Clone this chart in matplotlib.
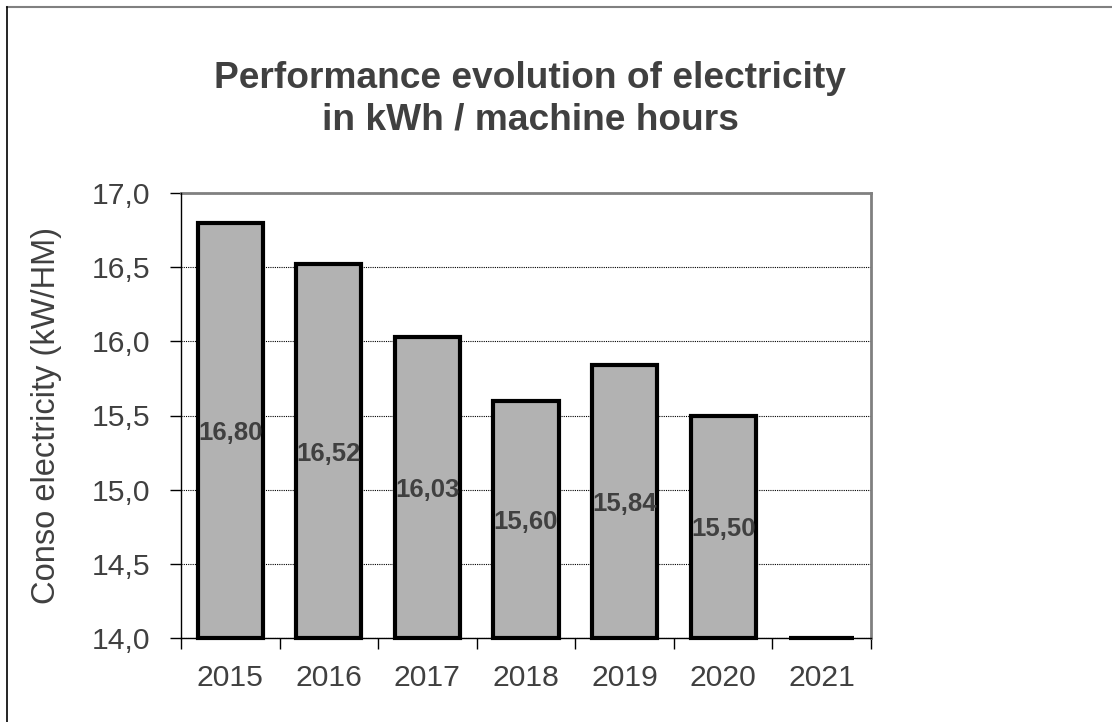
import matplotlib
matplotlib.use("Agg")
import matplotlib.pyplot as plt
from matplotlib.lines import Line2D
import numpy as np

plt.rcParams['font.family'] = ['Liberation Sans', 'DejaVu Sans']

years = ["2015", "2016", "2017", "2018", "2019", "2020", "2021"]
values = [16.80, 16.52, 16.03, 15.60, 15.84, 15.50, 0.0]
value_labels = ["16,80", "16,52", "16,03", "15,60", "15,84", "15,50", ""]
yticks = [14.0, 14.5, 15.0, 15.5, 16.0, 16.5, 17.0]
ytick_labels = ["14,0", "14,5", "15,0", "15,5", "16,0", "16,5", "17,0"]
title_lines = ["Performance evolution of electricity", "in kWh / machine hours"]
ylabel = "Conso electricity (kW/HM)"

W, H = 1112, 722
fig = plt.figure(figsize=(W / 100, H / 100), dpi=100)
ax = fig.add_axes([181 / W, 1 - 638 / H, (871 - 181) / W, (638 - 193) / H])

ymin, ymax = yticks[0], yticks[-1]
x = np.arange(len(years))
heights = np.clip(np.array(values) - ymin, 0, None)
ax.bar(x, heights, bottom=ymin, width=0.66, color="#b2b2b2",
       edgecolor="black", linewidth=3, zorder=3, clip_on=False)

for xi, v, lab in zip(x, values, value_labels):
    if lab and v > ymin:
        ax.text(xi, (ymin + v) / 2, lab, ha="center", va="center_baseline",
                fontsize=18.5, fontweight="bold", color="#404040", zorder=4)

ax.set_xlim(-0.5, len(years) - 0.5)
ax.set_ylim(ymin, ymax)
ax.set_yticks(yticks)
ax.set_yticklabels(ytick_labels)
ax.set_xticks(x)
ax.set_xticklabels(years)
ax.set_xticks(np.arange(-0.5, len(years)), minor=True)

ax.tick_params(axis="y", which="major", direction="out", length=8, width=1,
               color="black", labelsize=21.7, labelcolor="#404040", pad=14)
ax.tick_params(axis="x", which="major", length=0, labelsize=21.7,
               labelcolor="#404040", pad=19)
ax.tick_params(axis="x", which="minor", direction="out", length=8, width=1,
               color="black")

ax.yaxis.grid(True, linestyle=(0, (1, 1)), color="black", linewidth=0.8, zorder=0)
ax.set_axisbelow(True)

for s in ["left", "bottom"]:
    ax.spines[s].set_color("black")
    ax.spines[s].set_linewidth(1)
    ax.spines[s].set_zorder(5)
for s in ["top", "right"]:
    ax.spines[s].set_color("#808080")
    ax.spines[s].set_linewidth(2)

fig.text(47 / W, 1 - 415 / H, ylabel, rotation=90, ha="center", va="center",
         fontsize=23.5, color="#404040")

fig.text(530 / W, 1 - 88 / H, title_lines[0], ha="center", va="baseline",
         fontsize=26.7, fontweight="bold", color="#404040")
fig.text(530 / W, 1 - 130 / H, title_lines[1], ha="center", va="baseline",
         fontsize=26.7, fontweight="bold", color="#404040")

fig.add_artist(Line2D([7 / W, 1.01], [1 - 7 / H, 1 - 7 / H], transform=fig.transFigure,
                      color="#808080", linewidth=1.5))
fig.add_artist(Line2D([7 / W, 7 / W], [1 - 7 / H, -0.01], transform=fig.transFigure,
                      color="black", linewidth=1.2))

fig.savefig("out.png", dpi=100)
